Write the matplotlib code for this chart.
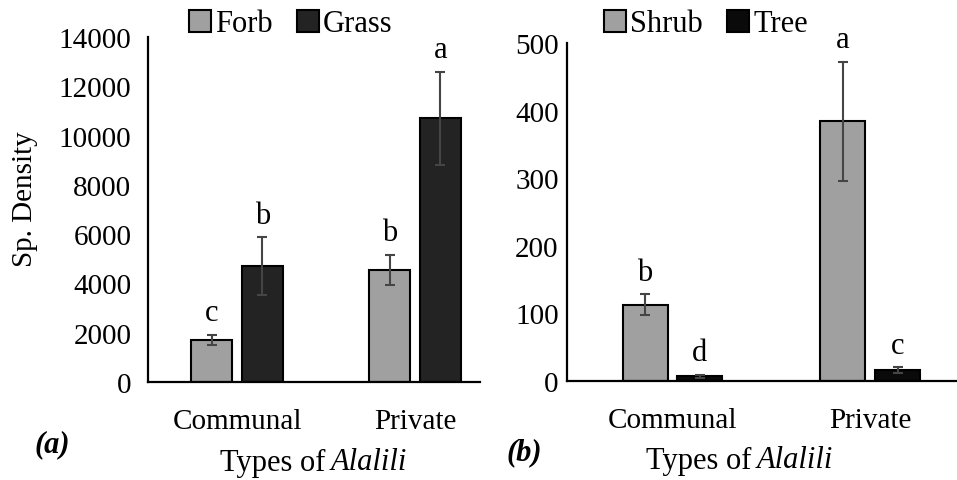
import numpy as np
import matplotlib.pyplot as plt

plt.rcParams['font.family'] = ['Liberation Serif', 'DejaVu Serif']

# data
types = ['Communal', 'Private']

forb = [1700, 4550]
forb_err = [200, 620]
grass = [4700, 10700]
grass_err = [1170, 1900]
herb_letters = [['c', 'b'], ['b', 'a']]   # [forb, grass]

shrub = [113, 384]
shrub_err = [15, 88]
tree = [7, 16]
tree_err = [2, 4]
woody_letters = [['b', 'a'], ['d', 'c']]  # [shrub, tree]

fs = 21
grey = '#a0a0a0'
err_kw = dict(ecolor='#454545', elinewidth=1.5, capsize=3.5, capthick=1.5)

W, H = 957, 481
fig = plt.figure(figsize=(W / 100, H / 100), dpi=100)
ax1 = fig.add_axes([148 / W, 1 - 383 / H, 332 / W, 345 / H])
ax2 = fig.add_axes([567 / W, 1 - 382 / H, 390 / W, 338 / H])


def panel(ax, v1, e1, v2, e2, c1, c2, names, letters, off, w, ylim, yticks, xlim, ypad):
    x = np.arange(len(types))
    ax.bar(x - off, v1, w, yerr=e1, color=c1, edgecolor='black',
           linewidth=1.5, error_kw=err_kw, label=names[0])
    ax.bar(x + off, v2, w, yerr=e2, color=c2, edgecolor='black',
           linewidth=1.5, error_kw=err_kw, label=names[1])
    for xs, vals, errs, labs in [(x - off, v1, e1, letters[0]),
                                 (x + off, v2, e2, letters[1])]:
        for xi, v, e, t in zip(xs, vals, errs, labs):
            ax.annotate(t, (xi, v + e), xytext=(0, 16), textcoords='offset points',
                        ha='center', va='center', fontsize=fs + 1)
    ax.set_xlim(*xlim)
    ax.set_ylim(*ylim)
    ax.set_yticks(yticks)
    ax.set_xticks(x)
    ax.set_xticklabels(types)
    ax.tick_params(axis='both', length=0, labelsize=fs)
    ax.tick_params(axis='x', pad=19)
    ax.tick_params(axis='y', pad=ypad)
    for s in ['top', 'right']:
        ax.spines[s].set_visible(False)
    for s in ['left', 'bottom']:
        ax.spines[s].set_linewidth(1.6)


panel(ax1, forb, forb_err, grass, grass_err, grey, '#232323', ['Forb', 'Grass'],
      herb_letters, 0.143, 0.23, (0, 14000), np.arange(0, 14001, 2000), (-0.5, 1.365), 12)
panel(ax2, shrub, shrub_err, tree, tree_err, grey, '#0a0a0a', ['Shrub', 'Tree'],
      woody_letters, 0.139, 0.228, (0, 500), np.arange(0, 501, 100), (-0.534, 1.44), 6)

ax1.set_ylabel('Sp. Density', fontsize=fs)
ax1.yaxis.set_label_coords((25 - 148) / 332, (383 - 199) / 345)
ax1.yaxis.label.set_va('center')

for ax, cx in [(ax1, 291 / W), (ax2, 706 / W)]:
    ax.legend(loc='center', bbox_to_anchor=(cx, 1 - 25 / H), bbox_transform=fig.transFigure,
              ncol=2, frameon=False, fontsize=fs + 1, handlelength=0.7, handleheight=0.7,
              handletextpad=0.15, columnspacing=0.8, borderpad=0)

# axis titles: "Types of" plain + "Alalili" italic
for xe, xs, yc in [(325, 331, 463), (751, 757, 461)]:
    fig.text(xe / W, 1 - yc / H, 'Types of', fontsize=fs + 1, ha='right', va='center')
    fig.text(xs / W, 1 - yc / H, 'Alalili', fontsize=fs + 1, fontstyle='italic',
             ha='left', va='center')

fig.text(35 / W, 1 - 445 / H, '(a)', fontsize=fs + 1, fontweight='bold', fontstyle='italic',
         va='center', ha='left')
fig.text(507 / W, 1 - 453 / H, '(b)', fontsize=fs + 1, fontweight='bold', fontstyle='italic',
         va='center', ha='left')

fig.savefig('out.png', dpi=100)
